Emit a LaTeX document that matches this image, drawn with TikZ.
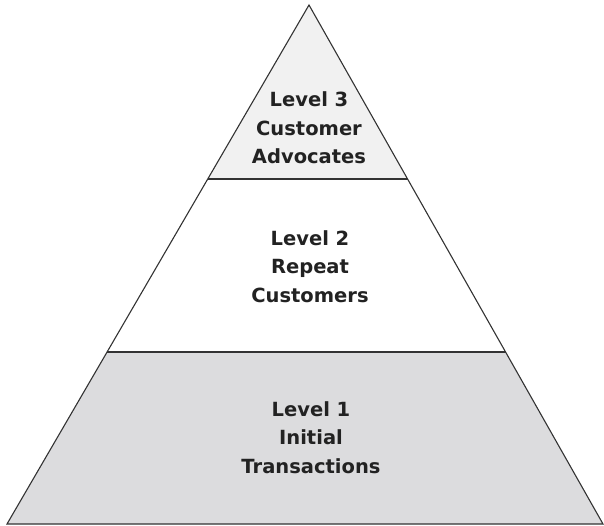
\documentclass[tikz,border=0pt]{standalone}
\usepackage{fontspec}
\setmainfont{DejaVu Sans}
\usetikzlibrary{calc}
\definecolor{topfill}{HTML}{F1F1F1}
\definecolor{lowfill}{HTML}{DCDCDE}
\definecolor{edge}{HTML}{333333}
\definecolor{labeltext}{HTML}{222222}
\tikzset{
  edgeline/.style={draw=edge, line width=1.1pt, line join=miter},
  levellabel/.style={align=center, font=\fontsize{19.5}{28.5}\selectfont\bfseries, text=labeltext, inner sep=0pt, anchor=base}
}
\begin{document}
\begin{tikzpicture}[x=1pt,y=-1pt]
\useasboundingbox (0,0) rectangle (604,526);
\coordinate (A) at (309,5);
\coordinate (L) at (7,524);
\coordinate (R) at (603,524);
\coordinate (L1) at ($(A)!0.3353!(L)$);
\coordinate (R1) at ($(A)!0.3353!(R)$);
\coordinate (L2) at ($(A)!0.6686!(L)$);
\coordinate (R2) at ($(A)!0.6686!(R)$);
\fill[topfill] (A) -- (L1) -- (R1) -- cycle;
\fill[white] (L1) -- (L2) -- (R2) -- (R1) -- cycle;
\fill[lowfill] (L2) -- (L) -- (R) -- (R2) -- cycle;
\draw[edgeline] (L1) -- (R1);
\draw[edgeline] (L2) -- (R2);
\draw[edgeline] (A) -- (L) -- (R) -- cycle;
\node[levellabel] (lv3) at (309,164) {Level 3\\Customer\\Advocates};
\node[levellabel] (lv2) at (310,302) {Level 2\\Repeat\\Customers};
\node[levellabel] (lv1) at (311,473) {Level 1\\Initial\\Transactions};
\end{tikzpicture}
\end{document}
